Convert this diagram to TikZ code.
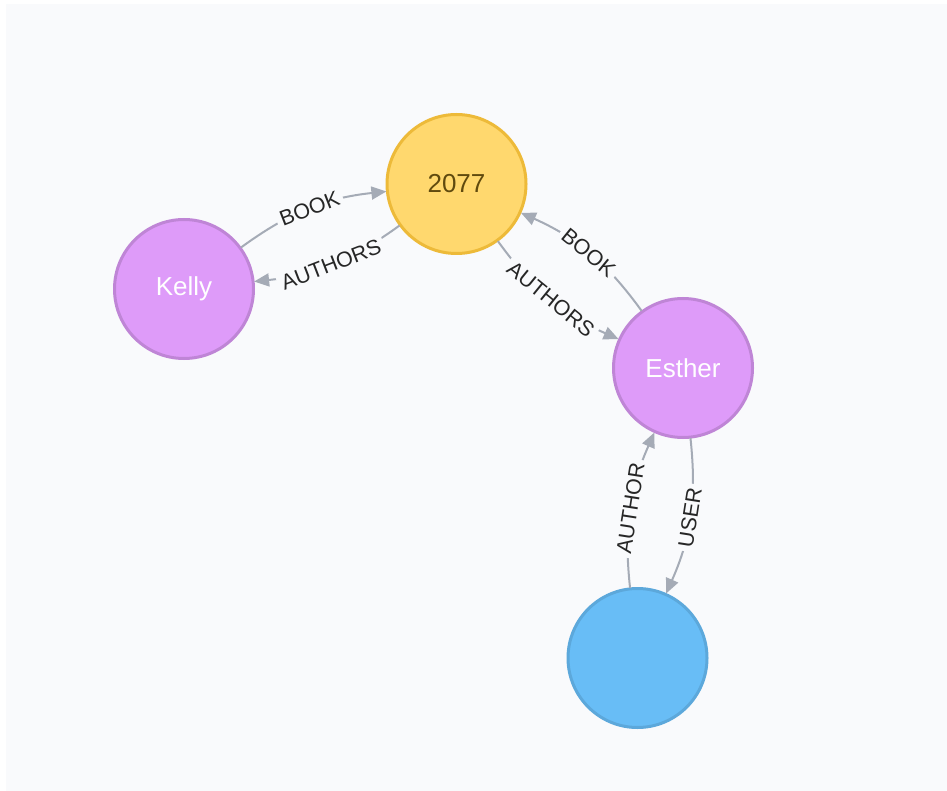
\documentclass[tikz,border=0pt]{standalone}
\usepackage{fontspec}
\setmainfont{Liberation Sans}
\usetikzlibrary{arrows.meta}
\definecolor{bg}{HTML}{F9FAFC}
\definecolor{edgec}{HTML}{A5ABB6}
\definecolor{yelfill}{HTML}{FFD86E}
\definecolor{yelline}{HTML}{EDBA39}
\definecolor{yeltext}{HTML}{604A0E}
\definecolor{purfill}{HTML}{DE9BF9}
\definecolor{purline}{HTML}{BF85D6}
\definecolor{blufill}{HTML}{68BDF6}
\definecolor{bluline}{HTML}{5CA8DB}
\tikzset{
  gnode/.style={circle, minimum size=139pt, inner sep=0pt, outer sep=0pt, line width=3pt, font=\fontsize{26}{30}\selectfont},
  ynode/.style={gnode, fill=yelfill, draw=yelline, text=yeltext},
  pnode/.style={gnode, fill=purfill, draw=purline, text=white},
  bnode/.style={gnode, fill=blufill, draw=bluline, text=white},
  rel/.style={draw=edgec, line width=2pt, -{Triangle[length=15pt,width=13pt]}, shorten >=1pt, shorten <=1pt},
  rlabel/.style={midway, sloped, fill=bg, inner sep=4pt, text=black!85, font=\fontsize{21.5}{24}\selectfont}
}
\begin{document}
\begin{tikzpicture}[x=1pt,y=-1pt]
\useasboundingbox (0,0) rectangle (947,791);
\fill[white] (0,0) rectangle (947,791);
\fill[bg] (6,4) rectangle (947,791);
\node[ynode] (n2077) at (456.5,184) {2077};
\node[pnode] (kelly) at (184,289) {Kelly};
\node[pnode] (esther) at (683,368) {Esther};
\node[bnode] (blue) at (637.5,658) {};
\draw[rel] (kelly) to[bend left=15] node[rlabel] {BOOK} (n2077);
\draw[rel] (n2077) to[bend left=15] node[rlabel] {AUTHORS} (kelly);
\draw[rel] (esther) to[bend right=15] node[rlabel] {BOOK} (n2077);
\draw[rel] (n2077) to[bend right=15] node[rlabel] {AUTHORS} (esther);
\draw[rel] (blue) to[bend left=15] node[rlabel] {AUTHOR} (esther);
\draw[rel] (esther) to[bend left=15] node[rlabel] {USER} (blue);
\end{tikzpicture}
\end{document}
